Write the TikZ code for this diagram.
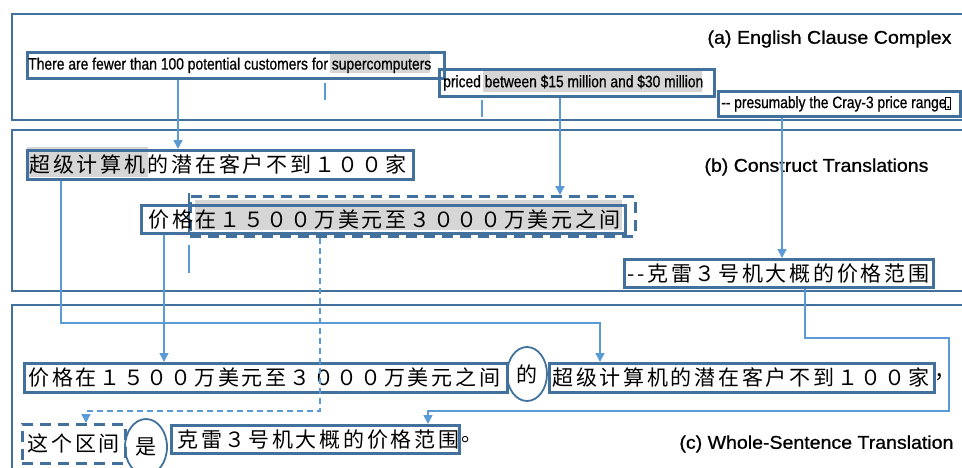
\documentclass[tikz,border=0pt]{standalone}
\usepackage{fontspec}
\setmainfont{Liberation Sans}
\newfontfamily\ens[FakeBold=0.8]{Liberation Sans}
\newfontfamily\zh[LetterSpace=13]{Noto Sans CJK SC}
\usetikzlibrary{arrows.meta,shapes.geometric}
\definecolor{boxblue}{HTML}{41719C}
\definecolor{linkblue}{HTML}{5B9BD5}
\definecolor{hl}{HTML}{D6D6D6}
\newcommand\fitw[2]{\resizebox{#1}{\height}{#2}}
\newcommand\lbox[3]{\makebox[#1][l]{\hspace*{#2}#3}}
\newcommand\ent{\ens\fontsize{16.5}{16.5}\selectfont}
\newcommand\zht{\zh\fontsize{21}{21}\selectfont}
\newcommand\lab{\ens\fontsize{18.5}{18.5}\selectfont}
\begin{document}
\begin{tikzpicture}[x=1pt,y=-1pt,
  panel/.style={draw=boxblue,line width=2.6pt},
  tbox/.style={draw=boxblue,line width=2.6pt,inner xsep=0pt,inner ysep=0pt,anchor=north west},
  dbox/.style={draw=boxblue,line width=2.6pt,dash pattern=on 11pt off 7pt,inner sep=0pt,anchor=north west},
  ring/.style={ellipse,draw=boxblue,line width=1.8pt,inner sep=0pt},
  conn/.style={draw=linkblue,line width=1.5pt,-{Triangle[width=9pt,length=9pt]}},
  dconn/.style={conn,dash pattern=on 6pt off 4pt},
  stray/.style={draw=linkblue,line width=1.5pt},
  cursor/.style={draw=black,line width=0.8pt}]
\useasboundingbox (0,0) rectangle (962,467);
% panels
\draw[panel] (990,14) -- (12,14) -- (12,120) -- (990,120);
\draw[panel] (990,130) -- (12,130) -- (12,291) -- (990,291);
\draw[panel] (990,305) -- (12,305) -- (12,490);
% highlights
\fill[hl] (330,52) rectangle (430,73);
\fill[hl] (483,70) rectangle (702,92);
\fill[hl] (27,147) rectangle (148,177);
\fill[hl] (195,200) rectangle (622,230);
% panel (a)
\node[tbox,minimum height=26pt] (a1) at (26,51)
  {\lbox{417pt}{1pt}{\ent\fitw{403pt}{There are fewer than 100 potential customers for supercomputers}}};
\node[tbox,minimum height=27pt] (a2) at (438,68)
  {\lbox{275pt}{4pt}{\ent\fitw{260pt}{priced between \$15 million and \$30 million}}};
\node[tbox,minimum height=25pt] (a3) at (717,90)
  {\lbox{242pt}{3pt}{\ent\fitw{229pt}{-{}- presumably the Cray-3 price range.}}};
\draw[cursor] (945,97) rectangle (950,109);
\node[anchor=east] (la) at (955,39) {\lab\fitw{244pt}{(a) English Clause Complex}};
% panel (b)
\node[tbox,minimum height=29pt] (b1) at (26,149)
  {\lbox{386pt}{2pt}{\zht 超级计算机的潜在客户不到１００家}};
\node[dbox,minimum width=445pt,minimum height=40pt] (db) at (189,195) {};
\draw[draw=boxblue,line width=2.6pt] (189,193) -- (189,235);
\node[tbox,minimum height=28pt] (b2) at (140,204)
  {\lbox{484pt}{7pt}{\zht 价格在１５００万美元至３０００万美元之间}};
\node[tbox,minimum height=28pt] (b3) at (623,258)
  {\lbox{309pt}{3pt}{\zht -{}-克雷３号机大概的价格范围}};
\node[anchor=east] (lb) at (932,167) {\lab\fitw{224pt}{(b) Construct Translations}};
% panel (c)
\node[tbox,minimum height=29pt] (c1) at (23,362)
  {\lbox{483pt}{4pt}{\zht 价格在１５００万美元至３０００万美元之间}};
\node[ring,minimum width=40pt,minimum height=54pt] (e1) at (527,374) {\zht 的};
\node[tbox,minimum height=29pt] (c2) at (548,362)
  {\lbox{385pt}{3pt}{\zht 超级计算机的潜在客户不到１００家}};
\node[anchor=west,inner sep=0pt] (cm) at (934,377) {\zht ，};
\node[dbox,minimum width=103pt,minimum height=39pt] (c3) at (21,423) {\zht 这个区间};
\node[ring,minimum width=42pt,minimum height=56pt] (e2) at (146,447) {\zht 是};
\node[tbox,minimum height=28pt] (c4) at (170,424)
  {\lbox{288pt}{6pt}{\zht 克雷３号机大概的价格范围}};
\node[anchor=west,inner sep=0pt] (pd) at (461,440) {\zht 。};
\node[anchor=east] (lc) at (957,444) {\lab\fitw{274pt}{(c) Whole-Sentence Translation}};
% stray segments
\draw[stray] (325,83) -- (325,100);
\draw[stray] (482,100) -- (482,117);
\draw[stray] (189,245) -- (189,273);
% connectors
\draw[conn] (178,0 |- a1.south) -- (178,0 |- b1.north);
\draw[conn] (560,0 |- a2.south) -- (560,0 |- db.north);
\draw[conn] (782,0 |- a3.south) -- (782,0 |- b3.north);
\draw[conn] (61,0 |- b1.south) -- (61,323) -- (600,323) -- (600,0 |- c2.north);
\draw[conn] (164,0 |- b2.south) -- (164,0 |- c1.north);
\draw[dconn] (320,0 |- db.south) -- (320,411) -- (86,411) -- (86,0 |- c3.north);
\draw[conn] (805,0 |- b3.south) -- (805,338) -- (949,338) -- (949,411) -- (428,411) -- (428,0 |- c4.north);
\end{tikzpicture}
\end{document}
